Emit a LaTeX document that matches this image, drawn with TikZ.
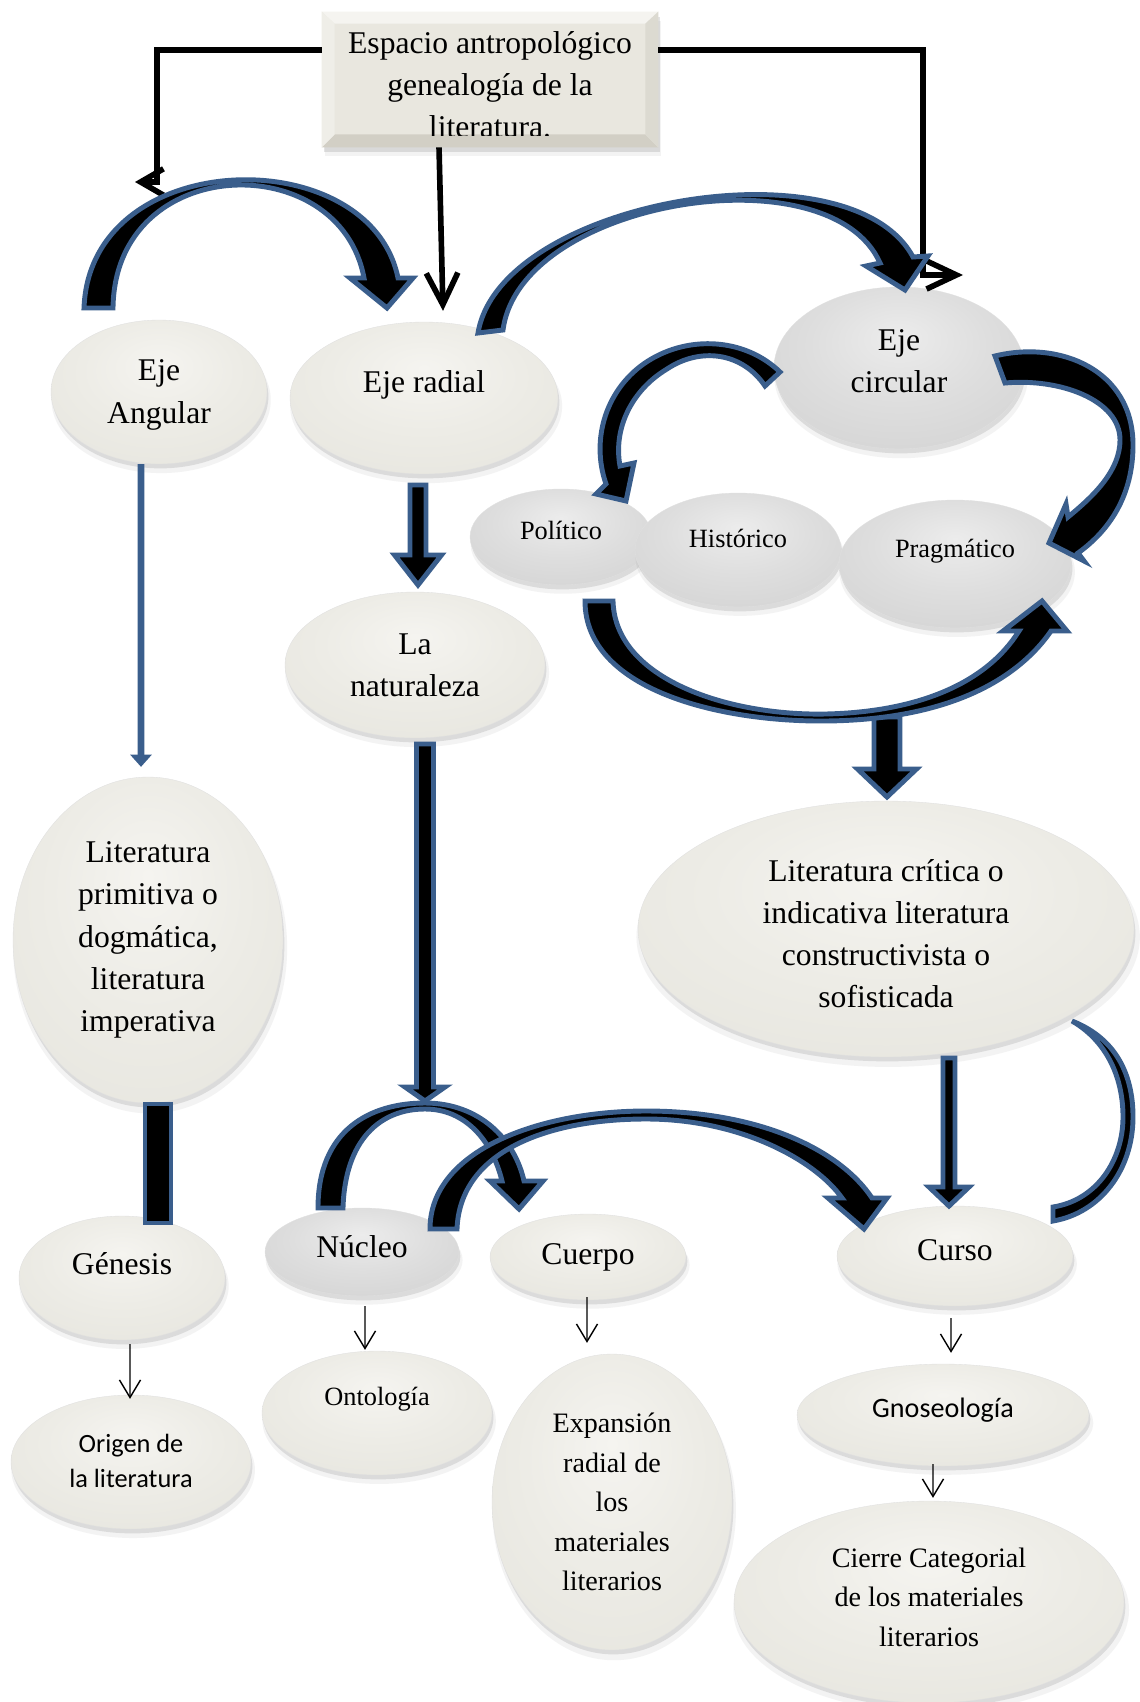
\documentclass[tikz,border=0pt]{standalone}
\usepackage{fontspec}
\setmainfont{Liberation Serif}
\newfontfamily\calib{Carlito}
\usetikzlibrary{shapes.geometric,arrows.meta,shadows,calc}

% palette
\definecolor{ablue}{RGB}{58,94,140}
\definecolor{bA}{HTML}{F5F4F0}
\definecolor{bB}{HTML}{EDECE6}
\definecolor{bC}{HTML}{E6E5DE}
\definecolor{bD}{HTML}{D8D6CD}
\definecolor{bE}{HTML}{CBC9BF}
\definecolor{gA}{HTML}{ECECEC}
\definecolor{gB}{HTML}{DEDEDE}
\definecolor{gC}{HTML}{D2D2D2}
\definecolor{gD}{HTML}{C4C4C4}
\definecolor{gE}{HTML}{B8B8B8}
\definecolor{face}{HTML}{E9E7DF}
\definecolor{bevT}{HTML}{F5F4F0}
\definecolor{bevL}{HTML}{EFEEE8}
\definecolor{bevR}{HTML}{DCDAD1}
\definecolor{bevB}{HTML}{D2CFC5}

\pgfdeclareradialshading{beigeball}{\pgfpoint{0bp}{10bp}}{color(0bp)=(bA); color(18bp)=(bB); color(38bp)=(bC); color(50bp)=(bD); color(60bp)=(bE)}
\pgfdeclareradialshading{grayball}{\pgfpoint{0bp}{10bp}}{color(0bp)=(gA); color(18bp)=(gB); color(38bp)=(gC); color(50bp)=(gD); color(60bp)=(gE)}

% vertical block arrow: x, top, tip, half shaft, half head, head length
\newcommand{\blockdown}[6]{%
  \draw[blockarrow] (#1-#4,#2) -- (#1-#4,#3-#6) -- (#1-#5,#3-#6) -- (#1,#3)
    -- (#1+#5,#3-#6) -- (#1+#4,#3-#6) -- (#1+#4,#2) -- cycle;}

\tikzset{
  bubble/.style={ellipse, inner sep=0pt, shade, shading=beigeball,
    draw=black!12, line width=0.2pt,
    general shadow={fill=black!60, opacity=.16, shadow xshift=.8pt, shadow yshift=-2.5pt},
    general shadow={fill=black!60, opacity=.08, shadow xshift=1.2pt, shadow yshift=-4.5pt, shadow scale=1.015}},
  graybubble/.style={bubble, shading=grayball},
  txt/.style={align=center, inner sep=0pt, font=\fontsize{18}{24}\selectfont},
  small/.style={txt, font=\fontsize{15}{20}\selectfont},
  mid/.style={txt, font=\fontsize{16}{22.5}\selectfont},
  cal/.style={txt, font=\calib\fontsize{15}{20}\selectfont},
  blockarrow/.style={fill=black, draw=ablue, line width=2.8pt, line join=miter, miter limit=6},
  kline/.style={draw=black, line width=3.2pt},
  thin/.style={draw=black, line width=0.8pt, -{Straight Barb[length=10pt,width=12pt]}},
  bline/.style={draw=ablue, line width=3.8pt, -{Triangle[length=7pt,width=12pt]}},
}

\begin{document}
\begin{tikzpicture}[x=0.02cm, y=-0.02cm]
\useasboundingbox (0,0) rectangle (1139,1702);
\fill[white] (0,0) rectangle (1139,1702);

% ---- title box with bevel
\node[rectangle, fill=face, minimum width=6.72cm, minimum height=2.7cm, inner sep=0pt,
  general shadow={fill=black!60, opacity=.18, shadow xshift=1pt, shadow yshift=-3pt},
  general shadow={fill=black!60, opacity=.08, shadow xshift=1.5pt, shadow yshift=-5pt}] (top) at (490,79.5) {};
\fill[bevT] (top.north west) -- (top.north east) -- ($(top.north east)+(-13,12)$) -- ($(top.north west)+(13,12)$) -- cycle;
\fill[bevB] (top.south west) -- (top.south east) -- ($(top.south east)+(-13,-13)$) -- ($(top.south west)+(13,-13)$) -- cycle;
\fill[bevL] (top.north west) -- ($(top.north west)+(13,12)$) -- ($(top.south west)+(13,-13)$) -- (top.south west) -- cycle;
\fill[bevR] (top.north east) -- ($(top.north east)+(-13,12)$) -- ($(top.south east)+(-13,-13)$) -- (top.south east) -- cycle;
\begin{scope}
  \clip (top.north west) rectangle ($(top.south east)+(0,-12)$);
  \node[txt] (toptext) at ([yshift=-0.11cm]top.center) {Espacio antropológico\\genealogía de la\\literatura.};
\end{scope}

% ---- bubbles
\node[bubble, minimum width=4.32cm, minimum height=2.88cm, label={[txt, yshift=-.06cm]center:{Eje\\Angular}}] (angular) at (159,392) {};
\node[bubble, minimum width=5.36cm, minimum height=3.04cm, label={[txt, yshift=.26cm]center:{Eje radial}}] (radial) at (424,398) {};
\node[graybubble, minimum width=5.0cm, minimum height=3.24cm, label={[txt, yshift=.13cm]center:{Eje\\circular}}] (circular) at (899,368) {};

\node[graybubble, minimum width=3.64cm, minimum height=1.92cm, label={[small, yshift=.14cm]center:{Político}}] (politico) at (561,537) {};
\node[graybubble, minimum width=4.12cm, minimum height=2.28cm, label={[small, yshift=.24cm]center:{Histórico}}] (historico) at (738,550) {};
\node[graybubble, minimum width=4.64cm, minimum height=2.56cm, label={[small, yshift=.26cm]center:{Pragmático}}] (pragmatico) at (955,564) {};

\node[bubble, minimum width=5.2cm, minimum height=2.92cm, label={[txt]center:{La\\naturaleza}}] (natur) at (415,665) {};
\node[bubble, minimum width=5.4cm, minimum height=6.52cm, label={[txt]center:{Literatura\\primitiva o\\dogmática,\\literatura\\imperativa}}] (litprim) at (148,940) {};
\node[bubble, minimum width=9.92cm, minimum height=5.12cm, label={[txt, yshift=-.09cm]center:{Literatura crítica o\\indicativa literatura\\constructivista o\\sofisticada}}] (critica) at (886,929) {};

\node[bubble, minimum width=4.12cm, minimum height=2.48cm, label={[txt, yshift=.28cm]center:{Génesis}}] (genesis) at (122,1278) {};
\node[graybubble, minimum width=3.88cm, minimum height=1.76cm, label={[txt, yshift=.10cm]center:{Núcleo}}] (nucleo) at (362,1252) {};
\node[bubble, minimum width=3.92cm, minimum height=1.72cm, label={[txt]center:{Cuerpo}}] (cuerpo) at (588,1257) {};
\node[bubble, minimum width=4.72cm, minimum height=2.0cm, label={[txt, yshift=.12cm]center:{Curso}}] (curso) at (955,1256) {};

\node[bubble, minimum width=4.8cm, minimum height=2.68cm, label={[cal, yshift=.03cm]center:{Origen de\\la literatura}}] (origen) at (131,1462) {};
\node[bubble, minimum width=4.6cm, minimum height=2.48cm, label={[small, yshift=.28cm]center:{Ontología}}] (ontologia) at (377,1413) {};
\node[bubble, minimum width=4.8cm, minimum height=5.92cm, label={[mid]center:{Expansión\\radial de\\los\\materiales\\literarios}}] (expansion) at (612,1502) {};
\node[bubble, minimum width=5.84cm, minimum height=2.04cm, label={[cal, font=\calib\fontsize{16}{20}\selectfont, yshift=.10cm]center:{Gnoseología}}] (gnoseo) at (943,1415) {};
\node[bubble, minimum width=7.8cm, minimum height=4.04cm, label={[mid, yshift=.10cm]center:{Cierre Categorial\\de los materiales\\literarios}}] (cierre) at (929,1602) {};

% ---- black connectors from the title box
\coordinate (lhead) at (135,182);
\coordinate (rhead) at (963,275);
\draw[kline, -{Straight Barb[length=13pt,width=15pt]}] ([yshift=0.59cm]top.west) -| (157,182) -- (lhead);
\draw[kline, -{Straight Barb[length=17pt,width=16pt]}] ([yshift=0.59cm]top.east) -| (923,275) -- (rhead);
\draw[kline, -{Straight Barb[length=18pt,width=18pt]}] ([xshift=-1.02cm]top.south) -- ([xshift=0.38cm,yshift=0.22cm]radial.north);

% ---- thin connectors
\draw[bline] ([xshift=-0.36cm]angular.south) -- ([xshift=-0.14cm,yshift=0.2cm]litprim.north);
\draw[thin] ([xshift=.16cm,yshift=-.08cm]genesis.south) -- ([xshift=-.02cm,yshift=-.08cm]origen.north);
\draw[thin] ([xshift=.06cm,yshift=-.2cm]nucleo.south) -- ([xshift=-.24cm,yshift=.02cm]ontologia.north);
\draw[thin] ([xshift=-.02cm,yshift=.06cm]cuerpo.south) -- ([xshift=-.5cm,yshift=.22cm]expansion.north);
\draw[thin] ([xshift=-.08cm,yshift=-.24cm]curso.south) -- ([xshift=.16cm,yshift=.22cm]gnoseo.north);
\draw[thin] ([xshift=-.2cm,yshift=.04cm]gnoseo.south) -- ([xshift=.08cm,yshift=.06cm]cierre.north);

% ---- straight block arrows
\blockdown{418}{485}{585}{8}{23.5}{30}
\blockdown{425}{744}{1101}{8.5}{20}{14}
\blockdown{887}{717}{797}{13}{29.5}{28}
\blockdown{949}{1058}{1206}{6}{20}{19}
\draw[blockarrow] (145,1104) rectangle (171,1223);

% ---- curved block arrows
% Eje Angular -> Eje radial
\draw[blockarrow] (84,308) .. controls (90,145) and (370,140) .. (398,278)
  -- (413,278) -- (387,308) -- (350,278) -- (364,278)
  .. controls (340,147) and (115,152) .. (113,308) -- cycle;
% Eje radial -> Eje circular
\draw[blockarrow] (478,333) .. controls (500,200) and (850,140) .. (913,257)
  -- (928,256) -- (905,290) -- (866,266) -- (880,263)
  .. controls (830,150) and (520,200) .. (503,330) -- cycle;
% Eje circular -> Político
\draw[blockarrow] (780,372) .. controls (745,338) and (689,335) .. (648,361)
  .. controls (607,387) and (590,438) .. (606,484)
  -- (596,494) -- (626,501) -- (634,463) -- (620,466)
  .. controls (613,428) and (632,390) .. (667,369)
  .. controls (700,347) and (742,352) .. (765,386) -- cycle;
% Eje circular -> Pragmático
\draw[blockarrow] (995,356) .. controls (1060,340) and (1133,370) .. (1133,445)
  .. controls (1133,495) and (1110,530) .. (1078,553)
  -- (1084,561) -- (1049,543) -- (1066,504) -- (1068,517)
  .. controls (1095,495) and (1120,470) .. (1120,440)
  .. controls (1120,400) and (1060,378) .. (1005,383) -- cycle;
% Político -> Pragmático
\draw[blockarrow] (585,601) .. controls (585,690) and (720,722) .. (826,721)
  .. controls (930,720) and (1010,690) .. (1051,631)
  -- (1067,631) -- (1042,601) -- (1003,631) -- (1019,631)
  .. controls (985,685) and (915,712) .. (826,714)
  .. controls (730,716) and (615,680) .. (613,601) -- cycle;
% Núcleo -> Cuerpo
\draw[blockarrow] (318,1208) .. controls (318,1130) and (370,1103) .. (425,1103)
  .. controls (480,1103) and (515,1140) .. (524,1181)
  -- (543,1181) -- (519,1209) -- (490,1181) -- (502,1181)
  .. controls (492,1140) and (465,1109) .. (425,1109)
  .. controls (380,1109) and (345,1140) .. (343,1208) -- cycle;
% Núcleo -> Curso
\draw[blockarrow] (430,1229) .. controls (430,1150) and (540,1111) .. (646,1111)
  .. controls (760,1111) and (840,1150) .. (872,1198)
  -- (887,1198) -- (864,1229) -- (828,1198) -- (842,1198)
  .. controls (815,1160) and (740,1119) .. (646,1119)
  .. controls (550,1119) and (460,1150) .. (457,1229) -- cycle;
% Curso <-> Literatura crítica, right side
\draw[blockarrow] (1072,1021) .. controls (1120,1040) and (1133,1080) .. (1133,1117)
  .. controls (1133,1170) and (1100,1213) .. (1053,1221)
  -- (1053,1207)
  .. controls (1097,1200) and (1123,1160) .. (1123,1117)
  .. controls (1123,1075) and (1105,1040) .. (1072,1021) -- cycle;
\end{tikzpicture}
\end{document}
